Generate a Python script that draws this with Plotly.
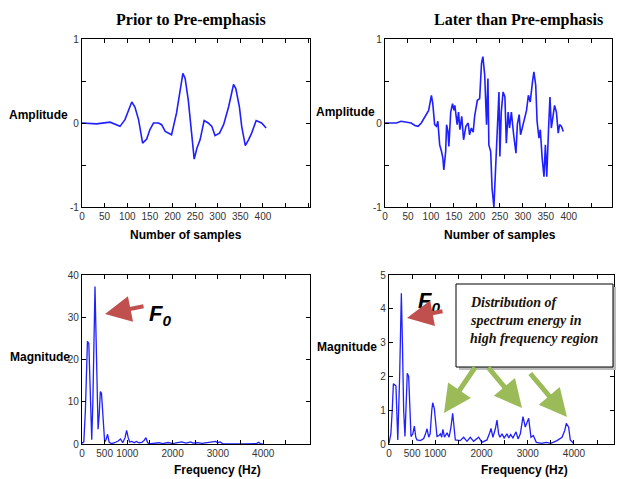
import plotly.graph_objects as go

W, H = 617, 479

# ---------------- data ----------------
pre_samples = [0, 32, 62, 84, 95, 110, 117, 125, 134, 143, 150, 158, 169, 176, 184, 198,
               209, 223, 228, 235, 243, 248, 254, 261, 270, 279, 287, 294, 304, 313, 324,
               335, 340, 348, 353, 361, 368, 375, 385, 397, 407]
pre_amp = [0.0, -0.01, 0.01, -0.04, 0.04, 0.25, 0.19, 0.04, -0.24, -0.19, -0.08, 0.0, 0.0,
           -0.02, -0.10, -0.14, 0.12, 0.59, 0.53, 0.27, -0.16, -0.43, -0.30, -0.20, 0.03,
           0.0, -0.04, -0.15, -0.12, -0.02, 0.19, 0.46, 0.41, 0.19, -0.04, -0.27, -0.20,
           -0.12, 0.03, 0.0, -0.06]

post_samples = [0, 25, 35, 46, 57, 65, 72, 79, 90, 95, 101, 104, 108, 112, 115, 119, 123,
                126, 128, 132, 134, 137, 139, 143, 147, 150, 152, 157, 160, 163, 167, 171,
                176, 181, 184, 188, 192, 195, 201, 206, 210, 213, 217, 221, 224, 226, 230,
                233, 237, 240, 244, 248, 250, 253, 257, 261, 264, 268, 271, 275, 280, 285,
                288, 292, 295, 299, 303, 308, 312, 316, 321, 324, 328, 331, 335, 338, 342,
                346, 349, 352, 356, 359, 362, 366, 369, 373, 377, 380, 384, 388]
post_amp = [0.0, 0.0, 0.02, 0.01, 0.0, -0.03, -0.04, 0.0, 0.10, 0.15, 0.33, 0.23, -0.02,
            -0.04, 0.02, -0.26, -0.34, -0.42, -0.56, -0.34, -0.02, -0.10, -0.28, 0.13, 0.23,
            0.15, 0.21, -0.02, 0.13, -0.08, 0.08, -0.20, -0.04, 0.0, -0.14, -0.06, -0.11,
            0.08, 0.27, 0.29, 0.71, 0.79, 0.57, -0.02, 0.53, -0.26, -0.34, -0.78, -1.0,
            -0.62, -0.26, 0.37, -0.40, 0.13, 0.37, 0.31, -0.24, 0.13, -0.06, 0.13, -0.14,
            -0.36, -0.02, 0.10, -0.14, -0.04, 0.02, 0.15, 0.33, 0.25, 0.49, 0.61, 0.45, 0.02,
            -0.18, -0.08, -0.42, -0.64, -0.26, -0.64, -0.06, 0.31, -0.06, 0.10, 0.21, 0.13,
            -0.12, -0.02, -0.04, -0.10]

pre_freq = [0, 40, 75, 100, 120, 150, 170, 195, 215, 240, 265, 287, 305, 330, 355, 380, 405,
            430, 455, 480, 500, 530, 565, 600, 650, 720, 800, 850, 900, 950, 985, 1020, 1050,
            1100, 1150, 1200, 1260, 1320, 1370, 1410, 1450, 1480, 1600, 1700, 1780, 1900,
            2000, 2150, 2200, 2300, 2400, 2450, 2550, 2650, 2750, 2850, 2950, 3000, 3050,
            3100, 3300, 3600, 3850, 3900, 3940, 3990]
pre_mag = [0.2, 0.5, 8, 20, 24.3, 23.8, 15, 4, 1, 10, 30, 37.3, 28, 12, 3.5, 7, 12.4, 12,
           7, 2, 0.5, 1, 2.3, 0.4, 0.1, 0.3, 0.7, 1.2, 0.3, 1.5, 3.2, 1.5, 0.5, 0.6, 0.3,
           0.6, 0.3, 0.4, 0.8, 1.5, 0.3, 0.05, 0.1, 0.3, 0.1, 0.35, 0.1, 0.3, 0.5, 0.2, 0.5,
           0.2, 0.3, 0.15, 0.3, 0.4, 0.6, 0.3, 0.5, 0.1, 0.05, 0.05, 0.1, 0.4, 0.05, 0.0]

post_freq = [0, 40, 70, 95, 150, 170, 190, 230, 267, 290, 317, 345, 370, 395, 425, 450, 476,
             515, 548, 580, 605, 680, 750, 790, 822, 860, 890, 925, 945, 980, 1010, 1038,
             1080, 1110, 1140, 1165, 1200, 1255, 1300, 1340, 1377, 1410, 1434, 1540, 1614,
             1686, 1758, 1830, 1938, 2010, 2118, 2170, 2205, 2247, 2300, 2335, 2370, 2400,
             2443, 2490, 2551, 2590, 2630, 2680, 2746, 2790, 2840, 2897, 2947, 3020, 3070,
             3120, 3185, 3300, 3400, 3500, 3632, 3741, 3800, 3834, 3884, 3920, 3990]
post_mag = [0.02, 0.3, 1.0, 1.78, 1.72, 1.0, 0.12, 2.0, 4.46, 3.0, 1.0, 0.22, 1.5, 2.09,
            2.0, 1.0, 0.22, 0.3, 0.53, 0.2, 0.12, 0.1, 0.16, 0.3, 0.45, 0.2, 0.3, 1.0, 1.22,
            1.05, 0.5, 0.22, 0.25, 0.3, 0.2, 0.43, 0.2, 0.33, 0.2, 0.5, 0.91, 0.4, 0.12, 0.1,
            0.2, 0.08, 0.2, 0.08, 0.2, 0.05, 0.12, 0.3, 0.46, 0.2, 0.45, 0.71, 0.3, 0.2, 0.3,
            0.18, 0.3, 0.18, 0.28, 0.18, 0.36, 0.15, 0.3, 0.81, 0.5, 0.76, 0.2, 0.25, 0.05,
            0.02, 0.05, 0.02, 0.1, 0.2, 0.4, 0.61, 0.5, 0.12, 0.02]

sample_ticks = [0, 50, 100, 150, 200, 250, 300, 350, 400, 450, 500]
sample_ticklabels = ["0", "50", "100", "150", "200", "250", "300", "350", "400", "", ""]
amp_ticks = [-1, -0.5, 0, 0.5, 1]
amp_ticklabels = ["-1", "", "0", "", "1"]
freq_ticks = [0, 500, 1000, 1500, 2000, 2500, 3000, 3500, 4000, 4500]
freq_ticklabels = ["0", "500", "1000", "", "2000", "", "3000", "", "4000", ""]
mag1_ticks = [0, 10, 20, 30, 40]
mag2_ticks = [0, 1, 2, 3, 4, 5]

titles = ["Prior to Pre-emphasis", "Later than Pre-emphasis"]
box_lines = ["Distribution of", "spectrum energy in", "high frequency region"]

# ---------------- helpers ----------------
def X(px):
    return px / W

def Y(py):
    return 1 - py / H

LINE = "#1f1fff"
fig = go.Figure()
fig.add_trace(go.Scatter(x=pre_samples, y=pre_amp, mode="lines",
                         line=dict(color=LINE, width=1.6), xaxis="x", yaxis="y"))
fig.add_trace(go.Scatter(x=post_samples, y=post_amp, mode="lines",
                         line=dict(color=LINE, width=1.6), xaxis="x2", yaxis="y2"))
fig.add_trace(go.Scatter(x=pre_freq, y=pre_mag, mode="lines",
                         line=dict(color=LINE, width=1.3), xaxis="x3", yaxis="y3"))
fig.add_trace(go.Scatter(x=post_freq, y=post_mag, mode="lines",
                         line=dict(color=LINE, width=1.3), xaxis="x4", yaxis="y4"))

axis_common = dict(showline=True, linecolor="black", linewidth=1.2, mirror="ticks",
                   ticks="inside", ticklen=4, tickcolor="black", showgrid=False,
                   zeroline=False, fixedrange=True, automargin=False,
                   tickfont=dict(family="Liberation Sans", size=10, color="#333"))

layout = dict(
    width=W, height=H, margin=dict(l=0, r=0, t=0, b=0, autoexpand=False),
    paper_bgcolor="white", plot_bgcolor="white", showlegend=False,
    xaxis=dict(domain=[X(82), X(310)], range=[0, 504], tickvals=sample_ticks,
               ticktext=sample_ticklabels, anchor="y", **axis_common),
    yaxis=dict(domain=[Y(207), Y(39)], range=[-1, 1], tickvals=amp_ticks,
               ticktext=amp_ticklabels, anchor="x", **axis_common),
    xaxis2=dict(domain=[X(385), X(612)], range=[0, 494], tickvals=sample_ticks,
                ticktext=sample_ticklabels, anchor="y2", **axis_common),
    yaxis2=dict(domain=[Y(207), Y(39)], range=[-1, 1], tickvals=amp_ticks,
                ticktext=amp_ticklabels, anchor="x2", **axis_common),
    xaxis3=dict(domain=[X(82), X(310)], range=[0, 5033], tickvals=freq_ticks,
                ticktext=freq_ticklabels, anchor="y3", **axis_common),
    yaxis3=dict(domain=[Y(444), Y(275)], range=[0, 40], tickvals=mag1_ticks,
                anchor="x3", **axis_common),
    xaxis4=dict(domain=[X(389), X(614)], range=[0, 4865], tickvals=freq_ticks,
                ticktext=freq_ticklabels, anchor="y4", **axis_common),
    yaxis4=dict(domain=[Y(444), Y(275)], range=[0, 5], tickvals=mag2_ticks,
                anchor="x4", **axis_common),
)
fig.update_layout(**layout)

ann = []
def text(px, py, s, size, family="Liberation Sans", xanchor="center", color="black"):
    ann.append(dict(x=X(px), y=Y(py), xref="paper", yref="paper", text=s, showarrow=False,
                    xanchor=xanchor, yanchor="middle",
                    font=dict(family=family, size=size, color=color)))

text(191, 20, "<b>" + titles[0] + "</b>", 16, "Liberation Serif")
text(518, 20, "<b>" + titles[1] + "</b>", 16, "Liberation Serif")
text(39, 115, "<b>Amplitude</b>", 12)
text(345, 112, "<b>Amplitude</b>", 12)
text(186, 235, "<b>Number of samples</b>", 12)
text(500, 235, "<b>Number of samples</b>", 12)
text(40, 357, "<b>Magnitude</b>", 12)
text(347, 347, "<b>Magnitude</b>", 12)
text(217, 470, "<b>Frequency (Hz)</b>", 12)
text(524, 470, "<b>Frequency (Hz)</b>", 12)
text(147, 315, "<b><i>F<sub>0</sub></i></b>", 22, xanchor="left")
text(416, 302, "<b><i>F<sub>0</sub></i></b>", 22, xanchor="left")

def arrow(hx, hy, tx, ty, color, width, size):
    ann.append(dict(x=X(hx), y=Y(hy), xref="paper", yref="paper", text="",
                    showarrow=True, ax=tx - hx, ay=ty - hy, arrowhead=2,
                    arrowsize=size, arrowwidth=width, arrowcolor=color, standoff=0))

RED = "#c0504d"
GREEN = "#9bbb59"
arrow(105, 314, 145, 306, RED, 4, 1.3)
arrow(407, 318, 444, 311, RED, 4, 1.3)
arrow(444, 413, 476, 366, GREEN, 5, 1.1)
arrow(522, 408, 487, 366, GREEN, 5, 1.1)
arrow(567, 417, 529, 372, GREEN, 5, 1.1)

for i, line in enumerate(box_lines):
    text(468, 302 + 18 * i, "<b><i>" + line + "</i></b>", 14, "Liberation Serif",
         xanchor="left", color="#1a1208")

fig.update_layout(annotations=ann)
fig.update_layout(shapes=[
    dict(type="rect", xref="paper", yref="paper", x0=X(459), x1=X(616), y0=Y(370),
         y1=Y(287), line=dict(width=0), fillcolor="#bbbbbb", layer="above"),
    dict(type="rect", xref="paper", yref="paper", x0=X(456), x1=X(613), y0=Y(367),
         y1=Y(284), line=dict(color="black", width=1), fillcolor="white", layer="above"),
])

fig.write_html("out.html", config={"displayModeBar": False},
               post_script="document.body.style.margin='0';document.body.style.overflow='hidden';")
